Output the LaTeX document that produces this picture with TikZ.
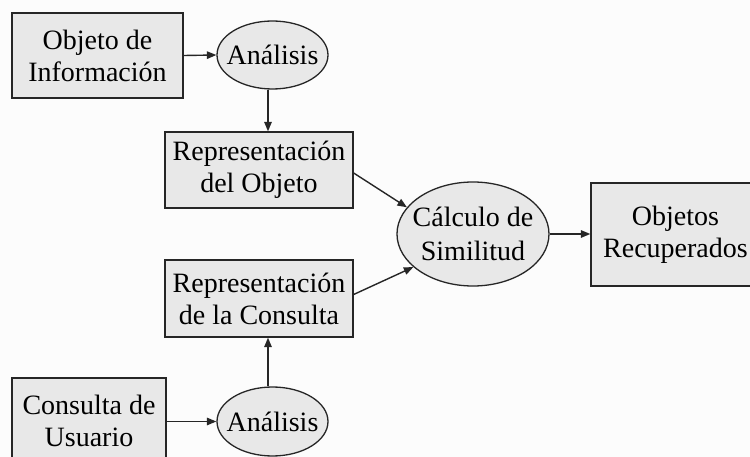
\documentclass[tikz,border=0pt]{standalone}
\usepackage{fontspec}
\setmainfont{Liberation Serif}
\usetikzlibrary{arrows.meta,shapes.geometric}
\begin{document}
\begin{tikzpicture}[x=1pt,y=-1pt,
  box/.style={draw=black!85,line width=1.3pt,fill=black!9,inner sep=0pt,align=center,
    font=\fontsize{28}{32}\selectfont},
  oval/.style={ellipse,draw=black!85,line width=1.3pt,fill=black!9,inner sep=0pt},
  lbl/.style={align=center,inner sep=0pt,font=\fontsize{28}{32}\selectfont},
  conn/.style={line width=1.4pt,draw=black!85,-{Triangle[length=9.5pt,width=7.5pt]}}]
\useasboundingbox (0,0) rectangle (750,457);
\clip (0,0) rectangle (750,457);
\fill[white!99!black] (0,0) rectangle (750,457);
% boxes
\node[box,minimum width=171,minimum height=85] (info) at (97.5,55.5) {Objeto de\\Información};
\node[box,minimum width=188,minimum height=76] (repo) at (259,170) {Representación\\del Objeto};
\node[box,minimum width=188,minimum height=77] (repc) at (259,298.5) {Representación\\de la Consulta};
\node[box,minimum width=169,minimum height=103] (rec) at (675.5,234.5) {Objetos\\Recuperados};
\node[box,minimum width=154,minimum height=85] (usr) at (89,420.5) {Consulta de\\Usuario};
% ellipses
\node[oval,minimum width=111,minimum height=68] (an1) at (272.5,55) {};
\node[lbl] (an1t) at (an1) {Análisis};
\node[oval,minimum width=111,minimum height=69] (an2) at (272.5,421.5) {};
\node[lbl] (an2t) at (an2) {Análisis};
\node[oval,minimum width=152,minimum height=104] (calc) at (473,234) {};
\node[lbl,font=\fontsize{28}{34}\selectfont] (calct) at (calc) {Cálculo de\\Similitud};
% connectors
\draw[conn] (info.east) -- (an1.west);
\draw[conn] (an1.south -| 268,0) -- (repo.north -| 268,0);
\draw[conn] ([yshift=-3pt]repo.east) -- (calc.158);
\draw[conn] ([yshift=4pt]repc.east) -- (calc.209);
\draw[conn] (an2.north -| 268,0) -- (repc.south -| 268,0);
\draw[conn] (usr.east |- an2.west) -- (an2.west);
\draw[conn] (calc.east) -- (rec.west |- calc.east);
\end{tikzpicture}
\end{document}
